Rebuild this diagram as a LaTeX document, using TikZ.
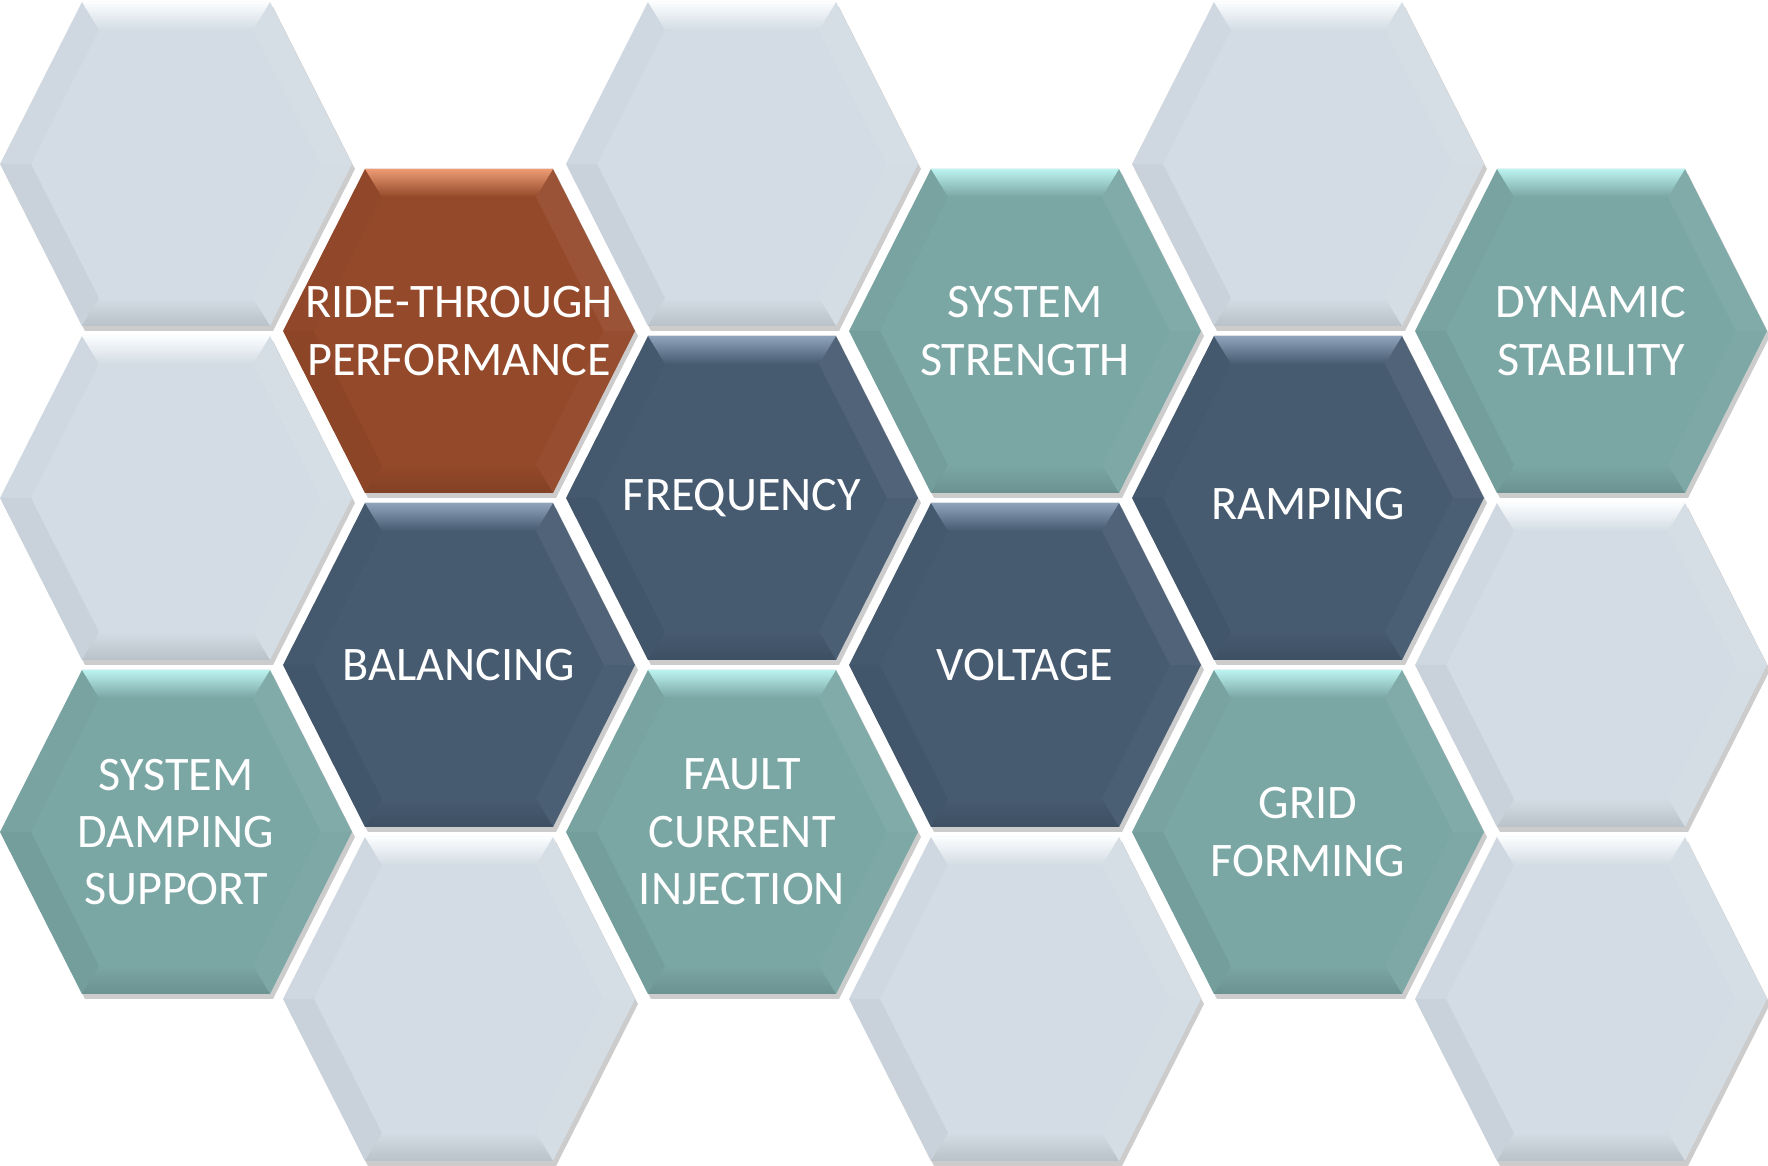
\documentclass[tikz,border=0pt]{standalone}
\usepackage{fontspec}
\setmainfont{Carlito}
\usepackage{tikz}
\usetikzlibrary{shapes.geometric}

\definecolor{hexlight}{HTML}{D3DCE4}
\definecolor{hexlighthi}{HTML}{FBFDFE}
\definecolor{hexslate}{HTML}{465A70}
\definecolor{hexslatehi}{HTML}{8FA3BB}
\definecolor{hexteal}{HTML}{7AA6A4}
\definecolor{hextealhi}{HTML}{BBF3F0}
\definecolor{hexrust}{HTML}{94492A}
\definecolor{hexrusthi}{HTML}{EC9B74}

\tikzstyle{hexshadow} = [fill=black, opacity=0.2]
\tikzstyle{hexlabel} = [text=white, align=center, font=\fontsize{13.7}{16.3}\selectfont]

% one bevelled hexagon: centre x, centre y, colour name (with a "hi" variant)
\newcommand{\hexcell}[3]{%
	\begin{scope}[shift={(#1,#2)}]
		\fill[hexshadow] (-173,-5) -- (-91,157) -- (97,157) -- (179,-5) -- (97,-167) -- (-91,-167) -- cycle;
		\fill[#3] (-176,0) -- (-94,162) -- (94,162) -- (176,0) -- (94,-162) -- (-94,-162) -- cycle;
		\shade[top color=#3hi, bottom color=#3] (-94,162) -- (94,162) -- (77,134) -- (-77,134) -- cycle;
		\fill[white, opacity=0.06] (94,162) -- (176,0) -- (145,0) -- (77,134) -- cycle;
		\fill[white, opacity=0.03] (176,0) -- (94,-162) -- (77,-134) -- (145,0) -- cycle;
		\shade[top color=#3, bottom color=#3!88!black] (-77,-134) -- (77,-134) -- (94,-162) -- (-94,-162) -- cycle;
		\fill[black, opacity=0.045] (-176,0) -- (-145,0) -- (-77,-134) -- (-94,-162) -- cycle;
		\fill[black, opacity=0.015] (-176,0) -- (-94,162) -- (-77,134) -- (-145,0) -- cycle;
	\end{scope}}

\begin{document}
\begin{tikzpicture}[x=0.01cm, y=0.01cm]
	\useasboundingbox (0,0) rectangle (1768,1166);

	% column 1
	\hexcell{176}{1002}{hexlight}
	\hexcell{176}{668}{hexlight}
	\hexcell{176}{334}{hexteal}
	% column 2
	\hexcell{459}{835}{hexrust}
	\hexcell{459}{501}{hexslate}
	\hexcell{459}{167}{hexlight}
	% column 3
	\hexcell{742}{1002}{hexlight}
	\hexcell{742}{668}{hexslate}
	\hexcell{742}{334}{hexteal}
	% column 4
	\hexcell{1025}{835}{hexteal}
	\hexcell{1025}{501}{hexslate}
	\hexcell{1025}{167}{hexlight}
	% column 5
	\hexcell{1308}{1002}{hexlight}
	\hexcell{1308}{668}{hexslate}
	\hexcell{1308}{334}{hexteal}
	% column 6
	\hexcell{1591}{835}{hexteal}
	\hexcell{1591}{501}{hexlight}
	\hexcell{1591}{167}{hexlight}

	\node (damping) [hexlabel] at (176,334) {SYSTEM\\DAMPING\\SUPPORT};
	\node (ridethrough) [hexlabel] at (459,835) {RIDE-THROUGH\\PERFORMANCE};
	\node (balancing) [hexlabel] at (459,501) {BALANCING};
	\node (frequency) [hexlabel] at (742,668) {FREQUENCY};
	\node (fault) [hexlabel] at (742,334) {FAULT\\CURRENT\\INJECTION};
	\node (strength) [hexlabel] at (1025,835) {SYSTEM\\STRENGTH};
	\node (voltage) [hexlabel] at (1025,501) {VOLTAGE};
	\node (ramping) [hexlabel] at (1308,662) {RAMPING};
	\node (gridforming) [hexlabel] at (1308,334) {GRID\\FORMING};
	\node (stability) [hexlabel] at (1591,835) {DYNAMIC\\STABILITY};
\end{tikzpicture}
\end{document}
